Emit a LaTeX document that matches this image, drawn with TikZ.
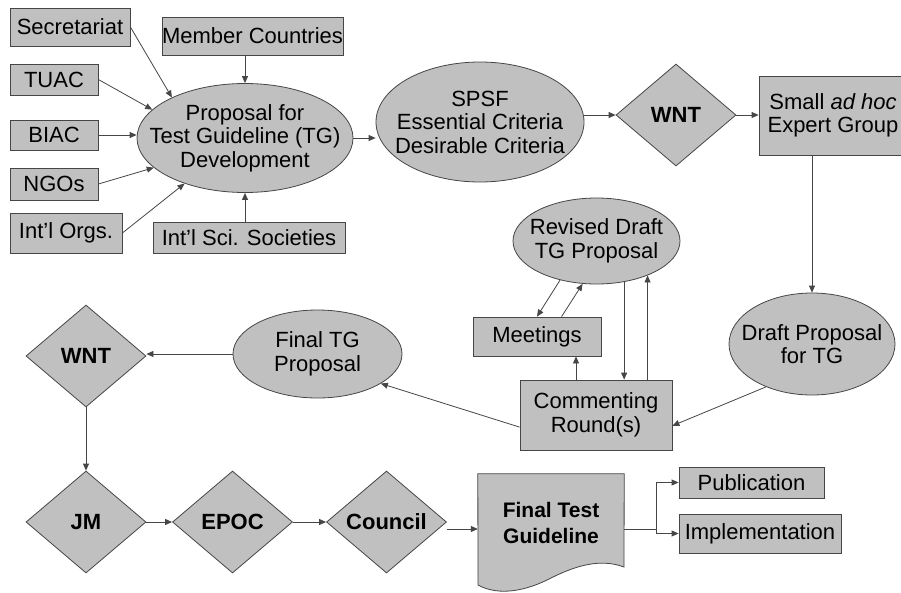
\documentclass[tikz,border=0pt]{standalone}
\usepackage{fontspec}
\setmainfont{Liberation Sans}
\usetikzlibrary{arrows.meta,shapes.geometric,calc}
\definecolor{boxfill}{RGB}{192,192,192}
\definecolor{edge}{RGB}{70,70,70}
\begin{document}
\begin{tikzpicture}[x=1pt,y=-1pt,
  every node/.style={font=\fontsize{22}{23.5}\selectfont, text=black},
  box/.style={draw=edge, fill=boxfill, line width=0.8pt, inner sep=0pt, align=center},
  oval/.style={ellipse, draw=edge, fill=boxfill, line width=0.8pt, inner sep=0pt},
  dia/.style={diamond, draw=edge, fill=boxfill, line width=0.8pt, inner sep=0pt, align=center,
    minimum width=120pt, minimum height=102pt, font=\fontsize{22}{24}\selectfont\bfseries},
  txt/.style={align=center, inner sep=0pt},
  arr/.style={draw=edge, line width=0.8pt, -{Triangle[length=7pt,width=6pt]}},
  ln/.style={draw=edge, line width=0.8pt}]
\useasboundingbox (0,0) rectangle (901,592);
\clip (0,0) rectangle (901,592);
\fill[white] (0,0) rectangle (901,592);

% top-left sources
\node[box, minimum width=120pt, minimum height=38pt] (sec) at (70,27) {Secretariat};
\node[box, minimum width=181pt, minimum height=38pt] (mem) at (252.5,36) {Member Countries};
\node[box, minimum width=88pt, minimum height=31pt] (tuac) at (54,79.5) {TUAC};
\node[box, minimum width=88pt, minimum height=30pt] (biac) at (54,135) {BIAC};
\node[box, minimum width=88pt, minimum height=32pt] (ngo) at (54,184) {NGOs};
\node[box, minimum width=112pt, minimum height=40pt] (iorg) at (66,233) {Int’l Orgs.};
\node[box, minimum width=192pt, minimum height=31pt] (isci) at (249,237.5) {Int’l Sci. Societies};

\node[oval, minimum width=216pt, minimum height=109pt] (prop) at (245,138) {};
\node[txt] (propT) at (prop) {Proposal for\\Test Guideline (TG)\\Development};

\node[oval, minimum width=208pt, minimum height=120pt] (spsf) at (480,122) {};
\node[txt] (spsfT) at (spsf) {SPSF\\Essential Criteria\\Desirable Criteria};

\node[dia] (wnt1) at (676,115) {WNT};
\node[box, minimum width=162pt, minimum height=79pt] (exp) at (840,115.5) {};
\node[txt] (expT) at (833,115.5) {Small \textit{ad hoc}\\Expert Group};

\node[oval, minimum width=166pt, minimum height=102pt] (draft) at (812,344) {};
\node[txt] (draftT) at (draft) {Draft Proposal\\for TG};

\node[box, minimum width=152pt, minimum height=70pt] (comm) at (596,415) {Commenting\\Round(s)};
\node[box, minimum width=128pt, minimum height=39pt] (meet) at (537,336.5) {Meetings};
\node[oval, minimum width=167pt, minimum height=86pt] (rev) at (596.5,241) {};
\node[txt] (revT) at (rev) {Revised Draft\\TG Proposal};

\node[oval, minimum width=169pt, minimum height=88pt] (final) at (317.5,354) {};
\node[txt] (finalT) at (final) {Final TG\\Proposal};

\node[dia] (wnt2) at (86,356) {WNT};
\node[dia] (jm) at (86,522) {JM};
\node[dia] (epoc) at (232.5,522) {EPOC};
\node[dia] (council) at (386.5,522) {Council};

% Final Test Guideline document shape
\node[inner sep=0pt, minimum width=146pt, minimum height=110pt] (ftg) at (551,529) {};
\filldraw[fill=boxfill, draw=edge, line width=0.8pt]
  (ftg.north west) -- (ftg.north east) -- (624,567)
  .. controls (600,558) and (575,566) .. (551,578)
  .. controls (528,590) and (500,597) .. (478,585) -- cycle;
\node[txt, font=\fontsize{21}{26}\selectfont\bfseries] (ftgT) at (551,523) {Final Test\\Guideline};

\node[box, minimum width=145pt, minimum height=31pt] (pub) at (751.5,482.5) {Publication};
\node[box, minimum width=162pt, minimum height=39pt] (impl) at (760,533.5) {Implementation};

% connectors into proposal
\draw[arr] (sec.east) -- (prop.151);
\draw[arr] (prop.north |- mem.south) -- (prop.north);
\draw[arr] (tuac.east) -- (prop.163);
\draw[arr] (biac.east) -- (biac.east -| prop.west);
\draw[arr] (ngo.east) -- (prop.198);
\draw[arr] (iorg.east) -- (prop.217);
\draw[arr] (prop.south |- isci.north) -- (prop.south);

\draw[arr] (prop.east) -- (prop.east -| spsf.west);
\draw[arr] (spsf.east |- wnt1.west) -- (wnt1.west);
\draw[arr] (wnt1.east) -- (wnt1.east -| exp.west);
\draw[arr] (draft.north |- exp.south) -- (draft.north);
\draw[arr] (draft.223) -- (comm.-8);

% revision loop
\draw[arr] (rev.227) -- (meet.north);
\draw[arr] (meet.39) -- (rev.252);
\draw[arr] (rev.-56) -- (rev.-56 |- comm.north);
\draw[arr] (rev.-34 |- comm.north) -- (rev.-34);
\draw[arr] ($(comm.north)+(-20,0)$) coordinate (cm) -- (cm |- meet.south);

\draw[arr] (comm.189) -- (final.-25);
\draw[arr] (final.west) -- (final.west -| wnt2.east);
\draw[arr] (wnt2.south) -- (jm.north);
\draw[arr] (jm.east) -- (epoc.west);
\draw[arr] (epoc.east) -- (council.west);
\draw[arr] (ftg.west -| council.east) -- (ftg.west);

\coordinate (br) at ($(ftg.east)+(32,0)$);
\draw[ln] (ftg.east) -- (br);
\draw[arr] (br) |- (pub.west);
\draw[arr] (br) |- (impl.west);
\end{tikzpicture}
\end{document}
